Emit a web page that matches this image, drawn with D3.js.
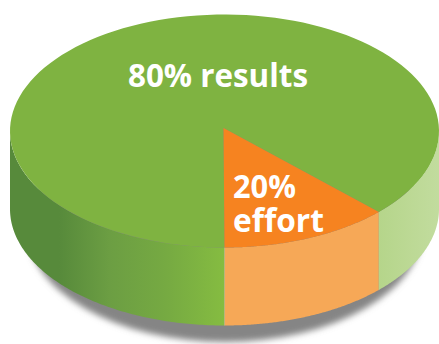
<!DOCTYPE html>
<html>
<head>
<meta charset="utf-8">
<style>
  html, body { margin: 0; padding: 0; background: #fff; }
  svg { display: block; }
  text { font-family: "Open Sans", Lato, sans-serif; font-weight: 700; fill: #fff; }
</style>
<script src="https://cdn.jsdelivr.net/npm/d3@7/dist/d3.min.js"></script>
</head>
<body>
<svg id="chart" width="439" height="344"></svg>
<script>
// Share of effort against share of results
const sliceNames = ["effort", "results"];
const sliceValues = [20, 80];
const effortLabel = ["20%", "effort"];
const resultsLabel = ["80% results"];

const W = 439, H = 344;
const disc = { cx: 224.5, cy: 131, rx: 214.5, ry: 116.5, depth: 78 };
const deg = Math.PI / 180;

const svg = d3.select("#chart").attr("viewBox", [0, 0, W, H]);
const defs = svg.append("defs");

// Slices run anticlockwise on screen, starting from the front of the disc.
const slices = d3.pie().sort(null)
  .value(d => d)
  .startAngle(0)
  .endAngle(2 * Math.PI)(sliceValues);

// The tilted disc foreshortens the front-right sector, so pie angles pass
// through a perspective scale before being placed on the ellipse.
const perspective = d3.scaleLinear()
  .domain([0, slices[0].endAngle, 2 * Math.PI])
  .range([0, 46 * deg, 2 * Math.PI]);

const px = a => disc.cx + disc.rx * Math.sin(a);
const py = a => disc.cy + disc.ry * Math.cos(a);
const rim = (a0, a1) => d3.range(0, 121).map(i => a0 + (a1 - a0) * i / 120);

const outline = d3.line().x(a => px(a)).y(a => py(a));

// Shadow cast under the disc
const blur = defs.append("filter").attr("id", "soft")
  .attr("x", "-10%").attr("y", "-10%").attr("width", "120%").attr("height", "120%");
blur.append("feGaussianBlur").attr("stdDeviation", 3);
svg.append("ellipse")
  .attr("cx", 225).attr("cy", 228).attr("rx", 198).attr("ry", 114)
  .attr("fill", "#858585").attr("filter", "url(#soft)");

// Wall shading, running across the full width of the disc
const wallGreen = defs.append("linearGradient").attr("id", "wallGreen")
  .attr("gradientUnits", "userSpaceOnUse")
  .attr("x1", 0).attr("x2", W).attr("y1", 0).attr("y2", 0);
[[0.0, "#578a3b"], [0.135, "#578a3b"], [0.25, "#6c9e43"], [0.38, "#76aa42"], [0.51, "#85bc41"],
 [0.511, "#b5d58a"], [0.86, "#b5d58a"], [1, "#c2dc9e"]]
  .forEach(([o, c]) => wallGreen.append("stop").attr("offset", o).attr("stop-color", c));

// Only the near half of the rim is visible
const visibleArcs = [[0, 90 * deg], [270 * deg, 360 * deg]];
const wall = (a0, a1) => {
  const top = rim(a0, a1);
  const front = top.map(a => [px(a), py(a)]);
  const back = top.slice().reverse().map(a => [px(a), py(a) + disc.depth]);
  return d3.line()(front.concat(back)) + "Z";
};

const wallFill = ["#f6a857", "url(#wallGreen)"];
const topFill = ["#f68320", "#7fb341"];

slices.forEach((s, i) => {
  const a0 = perspective(s.startAngle), a1 = perspective(s.endAngle);
  visibleArcs.forEach(([v0, v1]) => {
    const lo = Math.max(a0, v0), hi = Math.min(a1, v1);
    if (hi > lo) {
      svg.append("path").attr("class", "wall " + sliceNames[i])
        .attr("d", wall(lo, hi)).attr("fill", wallFill[i]);
    }
  });
});

// Top face, large slice first so the wedge sits over it
[1, 0].forEach(i => {
  const s = slices[i];
  const a0 = perspective(s.startAngle), a1 = perspective(s.endAngle);
  svg.append("path").attr("class", "top " + sliceNames[i])
    .attr("d", `M${disc.cx - 1},${disc.cy - 3}L` + outline(rim(a0, a1)).slice(1) + "Z")
    .attr("fill", topFill[i]);
});

// Labels
svg.append("text").attr("x", 128).attr("y", 87).attr("font-size", 32)
  .attr("textLength", 180).attr("lengthAdjust", "spacingAndGlyphs")
  .text(resultsLabel[0]);
svg.selectAll(".effort-label").data(effortLabel).join("text")
  .attr("class", "effort-label")
  .attr("x", 233).attr("y", (d, i) => 198 + i * 34).attr("font-size", 32)
  .attr("textLength", (d, i) => [63, 91][i]).attr("lengthAdjust", "spacingAndGlyphs")
  .text(d => d);
</script>
</body>
</html>
